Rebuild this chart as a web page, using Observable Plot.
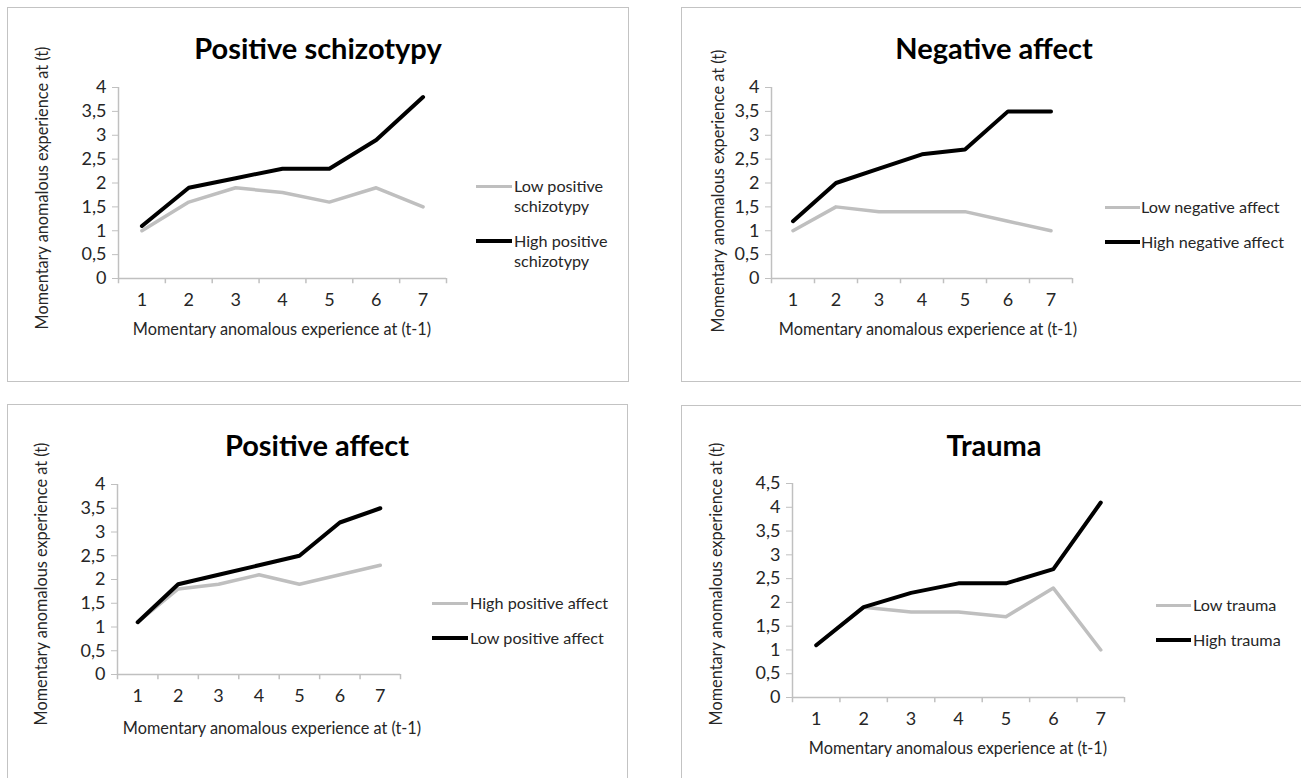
<!DOCTYPE html>
<html>
<head>
<meta charset="utf-8">
<script src="https://cdn.jsdelivr.net/npm/d3@7"></script>
<script src="https://cdn.jsdelivr.net/npm/@observablehq/plot@0.6"></script>
<style>
  html, body { margin: 0; padding: 0; background: #fff; }
  #root { position: relative; width: 1301px; height: 778px; overflow: hidden; font-family: Lato, "Open Sans", sans-serif; color: #262626; }
  .box { position: absolute; border: 1.5px solid #c3c3c3; box-sizing: border-box; }
  .title { position: absolute; font-weight: 700; font-size: 29px; color: #000; white-space: nowrap; transform: translate(-50%, -50%); }
  .xt { position: absolute; font-size: 16.3px; white-space: nowrap; transform: translate(-50%, -50%); }
  .yt { position: absolute; font-size: 16.3px; white-space: nowrap; transform: translate(-50%, -50%) rotate(-90deg); }
  .leg { position: absolute; font-size: 16.2px; line-height: 20px; white-space: nowrap; }
  .legline { position: absolute; }
  .plotwrap { position: absolute; }
  .plotwrap svg text { fill: #262626 !important; font-size: 18px !important; font-family: Lato, "Open Sans", sans-serif !important; }
</style>
</head>
<body>
<div id="root"></div>
<script>
// ---- data ----
const xCats = [1, 2, 3, 4, 5, 6, 7];
const schizoLow  = [1.0, 1.6, 1.9, 1.8, 1.6, 1.9, 1.5];
const schizoHigh = [1.1, 1.9, 2.1, 2.3, 2.3, 2.9, 3.8];
const negLow  = [1.0, 1.5, 1.4, 1.4, 1.4, 1.2, 1.0];
const negHigh = [1.2, 2.0, 2.3, 2.6, 2.7, 3.5, 3.5];
const posHigh = [1.1, 1.8, 1.9, 2.1, 1.9, 2.1, 2.3];
const posLow  = [1.1, 1.9, 2.1, 2.3, 2.5, 3.2, 3.5];
const traumaLow  = [1.1, 1.9, 1.8, 1.8, 1.7, 2.3, 1.0];
const traumaHigh = [1.1, 1.9, 2.2, 2.4, 2.4, 2.7, 4.1];
const yTitle = "Momentary anomalous experience at (t)";
const xTitle = "Momentary anomalous experience at (t-1)";

const panels = [
  {title: "Positive schizotypy", gray: schizoLow, black: schizoHigh,
   grayName: ["Low positive", "schizotypy"], blackName: ["High positive", "schizotypy"], yMax: 4,
   box: [7, 7, 622, 375], frame: [118, 87, 328, 191], titlePos: [318, 47], xt: [282, 328], yt: [41, 188],
   leg: {x1: 476, x2: 512, tx: 514, gy: 186, by: 241}},
  {title: "Negative affect", gray: negLow, black: negHigh,
   grayName: ["Low negative affect"], blackName: ["High negative affect"], yMax: 4,
   box: [681, 7, 640, 375], frame: [771, 87, 301, 191], titlePos: [994, 47], xt: [928, 328], yt: [717, 191],
   leg: {x1: 1105, x2: 1140, tx: 1141, gy: 207, by: 242}},
  {title: "Positive affect", gray: posHigh, black: posLow,
   grayName: ["High positive affect"], blackName: ["Low positive affect"], yMax: 4,
   box: [7, 404, 621, 420], frame: [117, 484, 283, 190], titlePos: [317, 444], xt: [272, 727], yt: [40, 584],
   leg: {x1: 432, x2: 468, tx: 470, gy: 603, by: 638}},
  {title: "Trauma", gray: traumaLow, black: traumaHigh,
   grayName: ["Low trauma"], blackName: ["High trauma"], yMax: 4.5,
   box: [681, 405, 640, 420], frame: [792, 483, 332, 214], titlePos: [994, 444], xt: [958, 747], yt: [715, 584],
   leg: {x1: 1156, x2: 1191, tx: 1193, gy: 605, by: 640}}
];

const root = document.getElementById("root");
const fmt = d => String(d).replace(".", ",");
const GRAY = "#c0c0c0";

function el(cls, css, html) {
  const d = document.createElement("div");
  d.className = cls;
  Object.assign(d.style, css);
  if (html != null) d.innerHTML = html;
  root.appendChild(d);
  return d;
}

for (const p of panels) {
  el("box", {left: p.box[0] + "px", top: p.box[1] + "px", width: p.box[2] + "px", height: p.box[3] + "px"});
  el("title", {left: p.titlePos[0] + "px", top: p.titlePos[1] + "px"}, p.title);
  el("xt", {left: p.xt[0] + "px", top: p.xt[1] + "px"}, xTitle);
  el("yt", {left: p.yt[0] + "px", top: p.yt[1] + "px"}, yTitle);

  const data = [];
  xCats.forEach((x, i) => data.push({x, y: p.gray[i], s: "gray"}));
  xCats.forEach((x, i) => data.push({x, y: p.black[i], s: "black"}));
  const bounds = d3.range(0.5, 7.51, 1);

  const mL = 44, mT = 10, mR = 10, mB = 40;
  const [fx, fy, fw, fh] = p.frame;
  const chart = Plot.plot({
    width: fw + mL + mR,
    height: fh + mT + mB,
    marginLeft: mL, marginTop: mT, marginRight: mR, marginBottom: mB,
    style: {color: GRAY, fontFamily: "Lato, 'Open Sans', sans-serif", fontSize: "18px", background: "transparent", overflow: "visible"},
    x: {domain: [0.5, 7.5], ticks: xCats, tickSize: 0, tickPadding: 15, tickFormat: d => String(d), label: null},
    y: {domain: [0, p.yMax], ticks: d3.range(0, p.yMax + 0.01, 0.5), tickSize: 6, tickPadding: 6, tickFormat: fmt, label: null},
    marks: [
      Plot.ruleX([0.5], {stroke: GRAY, strokeWidth: 1.5}),
      Plot.ruleY([0], {stroke: GRAY, strokeWidth: 1.5}),
      Plot.ruleX(bounds, {x: d => d, y1: 0, y2: -0.11, stroke: GRAY, strokeWidth: 1.5}),
      Plot.line(data.filter(d => d.s === "gray"), {x: "x", y: "y", stroke: "#bfbfbf", strokeWidth: 3.5, strokeLinejoin: "round"}),
      Plot.line(data.filter(d => d.s === "black"), {x: "x", y: "y", stroke: "#000", strokeWidth: 4, strokeLinejoin: "round"})
    ]
  });
  const wrap = el("plotwrap", {left: (fx - mL) + "px", top: (fy - mT) + "px"});
  wrap.appendChild(chart);

  // legend
  const L = p.leg;
  el("legline", {left: L.x1 + "px", top: (L.gy - 1.5) + "px", width: (L.x2 - L.x1) + "px", height: "3px", background: "#bfbfbf"});
  el("legline", {left: L.x1 + "px", top: (L.by - 2) + "px", width: (L.x2 - L.x1) + "px", height: "4px", background: "#000"});
  el("leg", {left: L.tx + "px", top: (L.gy - 10) + "px"}, p.grayName.join("<br>"));
  el("leg", {left: L.tx + "px", top: (L.by - 10) + "px"}, p.blackName.join("<br>"));
}
</script>
</body>
</html>
